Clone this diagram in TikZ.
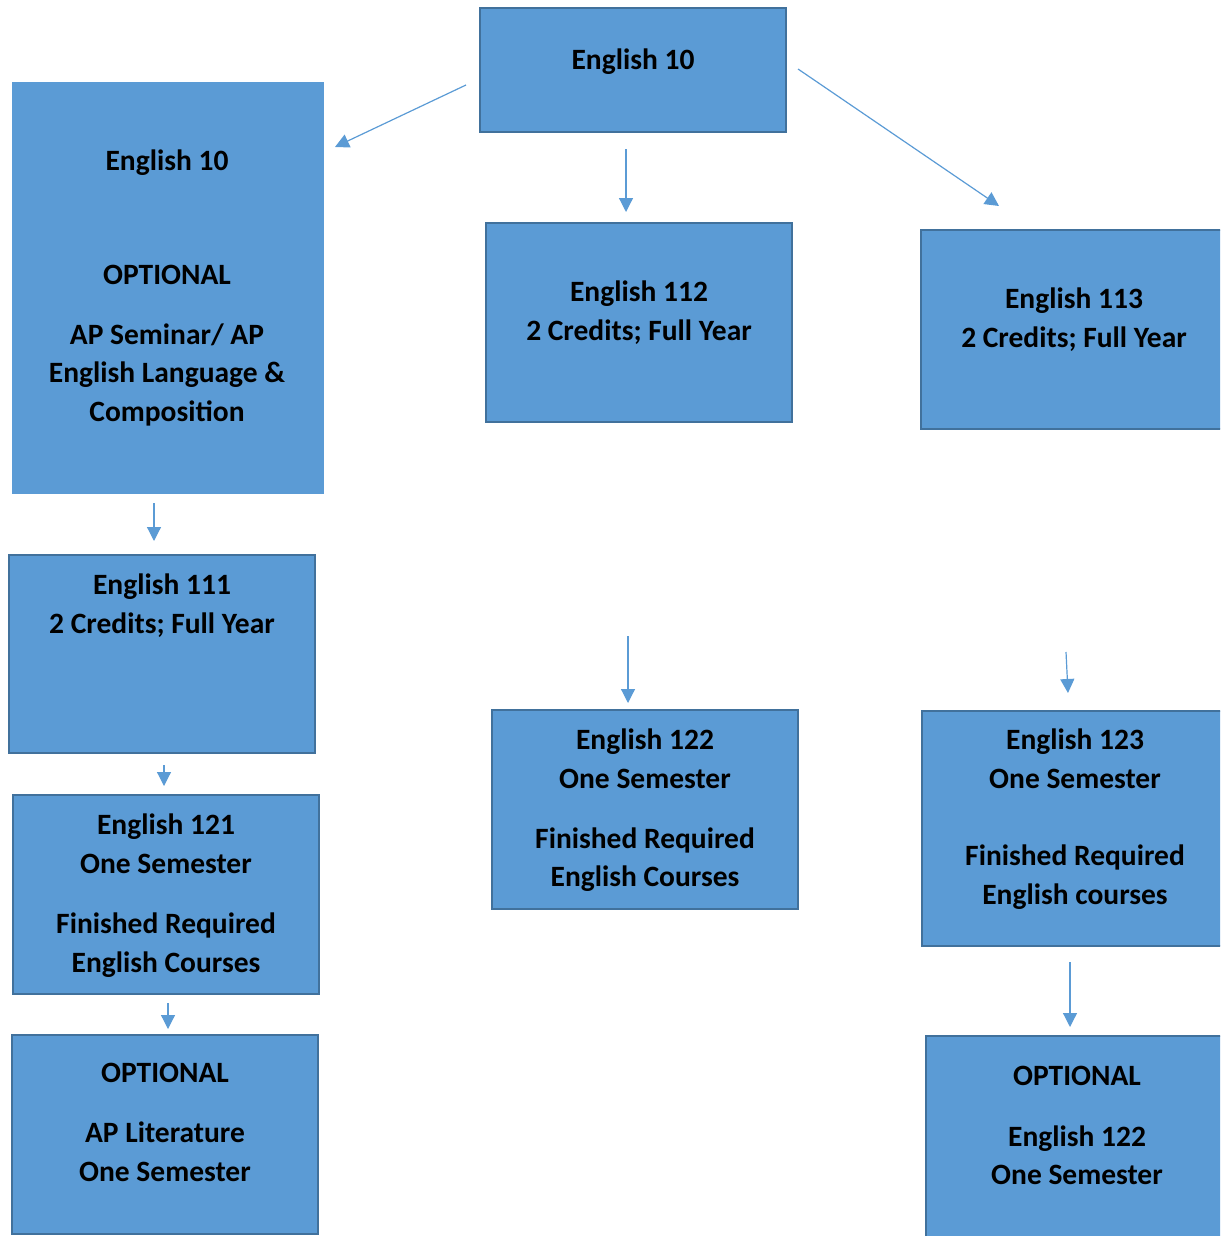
\documentclass[tikz,border=0pt]{standalone}
\usepackage{fontspec}
\setmainfont{Carlito}
\usetikzlibrary{arrows.meta}
\definecolor{boxfill}{HTML}{5B9BD5}
\definecolor{boxline}{HTML}{41719C}
\tikzset{
  box/.style={draw=boxline, line width=2pt, fill=boxfill, inner sep=0pt, outer sep=0pt},
  plainbox/.style={fill=boxfill, inner sep=0pt, outer sep=0pt},
  txt/.style={anchor=north, align=center, inner sep=0pt, font=\fontsize{29.5}{38.5}\selectfont\bfseries},
  conn/.style={draw=boxfill, line width=1.2pt, -{Triangle[width=14pt,length=14pt]}}
}
\begin{document}
\begin{tikzpicture}[x=1pt,y=-1pt]
\useasboundingbox (0,0) rectangle (1220,1236);
\clip (0,0) rectangle (1220,1236);
% boxes
\path[box] (480,8) rectangle (786,132) node[pos=0.5,inner sep=0] (b10) {};
\path[plainbox] (12,82) rectangle (324,494) node[pos=0.5,inner sep=0] (bap) {};
\path[box] (486,223) rectangle (792,422) node[pos=0.5,inner sep=0] (b112) {};
\path[box] (921,230) rectangle (1232,429) node[pos=0.5,inner sep=0] (b113) {};
\path[box] (9,555) rectangle (315,753) node[pos=0.5,inner sep=0] (b111) {};
\path[box] (13,795) rectangle (319,994) node[pos=0.5,inner sep=0] (b121) {};
\path[box] (12,1035) rectangle (318,1234) node[pos=0.5,inner sep=0] (bapl) {};
\path[box] (492,710) rectangle (798,909) node[pos=0.5,inner sep=0] (b122) {};
\path[box] (922,711) rectangle (1232,946) node[pos=0.5,inner sep=0] (b123) {};
\path[box] (926,1036) rectangle (1232,1250) node[pos=0.5,inner sep=0] (bopt) {};
% texts
\node[txt] (t10) at (633,49) {English 10};
\node[txt] (tap) at (167,150) {English 10\\[75pt]OPTIONAL\\[21.5pt]AP Seminar/ AP\\English Language \&\\Composition};
\node[txt] (t112) at (639,281) {English 112\\2 Credits; Full Year};
\node[txt] (t113) at (1074,288) {English 113\\2 Credits; Full Year};
\node[txt] (t111) at (162,574) {English 111\\2 Credits; Full Year};
\node[txt] (t121) at (166,814) {English 121\\One Semester\\[22pt]Finished Required\\English Courses};
\node[txt] (tapl) at (165,1063) {OPTIONAL\\[21.5pt]AP Literature\\One Semester};
\node[txt] (t122) at (645,729) {English 122\\One Semester\\[21.5pt]Finished Required\\English Courses};
\node[txt] (t123) at (1075,729) {English 123\\One Semester\\[39pt]Finished Required\\English courses};
\node[txt] (topt) at (1077,1066) {OPTIONAL\\[22pt]English 122\\One Semester};
% connector end points
\coordinate (a1s) at (466,85);  \coordinate (a1e) at (335,147);
\coordinate (a2s) at (626,149); \coordinate (a2e) at (626,212);
\coordinate (a3s) at (798,69);  \coordinate (a3e) at (999,206);
\coordinate (a4s) at (154,503); \coordinate (a4e) at (154,541);
\coordinate (a5s) at (164,765); \coordinate (a5e) at (164,786);
\coordinate (a6s) at (168,1003);\coordinate (a6e) at (168,1029);
\coordinate (a7s) at (628,636); \coordinate (a7e) at (628,703);
\coordinate (a8s) at (1066,652);\coordinate (a8e) at (1068,693);
\coordinate (a9s) at (1070,962);\coordinate (a9e) at (1070,1027);
\draw[conn] (a1s) -- (a1e);
\draw[conn] (a2s) -- (a2e);
\draw[conn] (a3s) -- (a3e);
\draw[conn] (a4s) -- (a4e);
\draw[conn] (a5s) -- (a5e);
\draw[conn] (a6s) -- (a6e);
\draw[conn] (a7s) -- (a7e);
\draw[conn] (a8s) -- (a8e);
\draw[conn] (a9s) -- (a9e);
\end{tikzpicture}
\end{document}
